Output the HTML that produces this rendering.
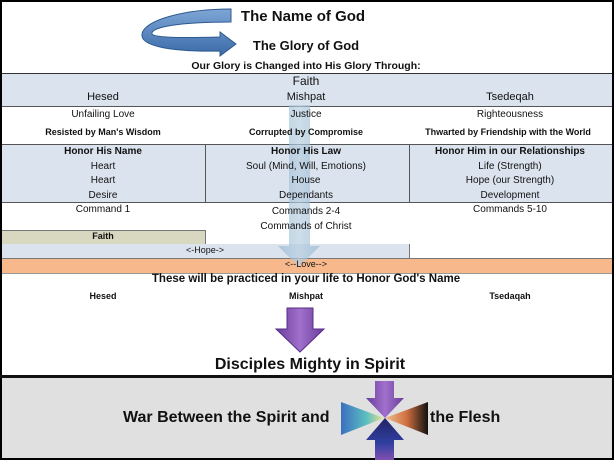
<!DOCTYPE html><html><head><style>
body{margin:0;width:614px;height:460px;overflow:hidden;background:#000;font-family:"Liberation Sans",sans-serif;}
#p{position:absolute;left:2px;top:2px;width:610px;height:456px;background:#fff;}
.t{position:absolute;white-space:nowrap;text-align:center;color:#111;}
.b{font-weight:bold}
.c{transform:translateX(-50%)}
</style></head><body><div id="p"></div>
<div style="position:absolute;left:2px;top:73px;width:610px;height:1px;background:#333"></div>
<div style="position:absolute;left:2px;top:74px;width:610px;height:32px;background:#dbe3ee"></div>
<div style="position:absolute;left:2px;top:106px;width:610px;height:1px;background:#555"></div>
<div style="position:absolute;left:2px;top:144px;width:610px;height:1px;background:#555"></div>
<div style="position:absolute;left:2px;top:145px;width:610px;height:57px;background:#dbe3ee"></div>
<div style="position:absolute;left:2px;top:202px;width:610px;height:1px;background:#555"></div>
<div style="position:absolute;left:205px;top:145px;width:1px;height:57px;background:#555"></div>
<div style="position:absolute;left:409px;top:145px;width:1px;height:57px;background:#555"></div>
<div style="position:absolute;left:2px;top:230px;width:203px;height:14px;background:#d8d7bf;border-top:1px solid #777;border-right:1px solid #777"></div>
<div style="position:absolute;left:2px;top:244px;width:407px;height:14px;background:#dbe3ee;border-right:1px solid #777"></div>
<div style="position:absolute;left:2px;top:258px;width:610px;height:14px;background:#f7b98b;border-top:1px solid #777;border-bottom:1px solid #999"></div>
<div style="position:absolute;left:0;top:375px;width:614px;height:3px;background:#111"></div>
<div style="position:absolute;left:2px;top:378px;width:610px;height:80px;background:#e0e0e0"></div>
<svg style="position:absolute;left:0;top:0" width="614" height="460">
<defs><linearGradient id="va" x1="0" y1="0" x2="1" y2="0"><stop offset="0" stop-color="#8fb3cf" stop-opacity=".6"/><stop offset=".5" stop-color="#b8cfe0" stop-opacity=".7"/><stop offset="1" stop-color="#8fb3cf" stop-opacity=".6"/></linearGradient>
<linearGradient id="pu" x1="0" y1="0" x2="1" y2="0"><stop offset="0" stop-color="#6a3d9a"/><stop offset=".5" stop-color="#a070cc"/><stop offset="1" stop-color="#6a3d9a"/></linearGradient>
<linearGradient id="bl" x1="0" y1="0" x2="0" y2="1"><stop offset="0" stop-color="#7ea6d6"/><stop offset="1" stop-color="#3a6aa8"/></linearGradient>
<linearGradient id="lf" x1="0" y1="0" x2="1" y2="0"><stop offset="0" stop-color="#3b6fc0"/><stop offset=".6" stop-color="#5cc0c0"/><stop offset="1" stop-color="#f0e090"/></linearGradient>
<linearGradient id="rt" x1="0" y1="0" x2="1" y2="0"><stop offset="0" stop-color="#f0c090"/><stop offset=".5" stop-color="#d07040"/><stop offset="1" stop-color="#111"/></linearGradient>
<linearGradient id="dn" x1="0" y1="0" x2="0" y2="1"><stop offset="0" stop-color="#222266"/><stop offset=".6" stop-color="#3040a0"/><stop offset="1" stop-color="#8050b0"/></linearGradient></defs>
<path d="M231 9 L231 22 C180 22 150 27 152 34 C155 38 185 38 220 37 L220 32 L236 44 L220 56 L220 51 C170 52 140 46 142 34 C144 20 185 9 231 9Z" fill="url(#bl)" stroke="#2e5a90" stroke-width="1"/>
<path d="M289 105 L310 105 L310 246 L320 246 L299 267 L278 246 L289 246Z" fill="url(#va)"/>
<path d="M287 308 L313 308 L313 329 L324 329 L300 352 L276 329 L287 329Z" fill="url(#pu)" stroke="#5a2f8a" stroke-width="1"/>
<path d="M341 402 L384 418 L341 435Z" fill="url(#lf)"/>
<path d="M428 402 L385 418 L428 435Z" fill="url(#rt)"/>
<path d="M375 381 L394 381 L394 398 L404 398 L385 418 L366 398 L375 398Z" fill="url(#pu)"/>
<path d="M375 460 L394 460 L394 440 L404 440 L385 418 L366 440 L375 440Z" fill="url(#dn)"/>
</svg>
<div class="t b c" style="left:303px;top:8px;font-size:15px">The Name of God</div>
<div class="t b c" style="left:306px;top:38px;font-size:13px">The Glory of God</div>
<div class="t b c" style="left:306px;top:60px;font-size:10.5px">Our Glory is Changed into His Glory Through:</div>
<div class="t c" style="left:306px;top:74px;font-size:12px">Faith</div>
<div class="t c" style="left:103px;top:91px;font-size:11px">Hesed</div>
<div class="t c" style="left:306px;top:91px;font-size:11px">Mishpat</div>
<div class="t c" style="left:510px;top:91px;font-size:11px">Tsedeqah</div>
<div class="t c" style="left:103px;top:109px;font-size:10px">Unfailing Love</div>
<div class="t c" style="left:306px;top:109px;font-size:10px">Justice</div>
<div class="t c" style="left:510px;top:109px;font-size:10px">Righteousness</div>
<div class="t b c" style="left:103px;top:127px;font-size:9px">Resisted by Man's Wisdom</div>
<div class="t b c" style="left:306px;top:127px;font-size:9px">Corrupted by Compromise</div>
<div class="t b c" style="left:508px;top:127px;font-size:9px">Thwarted by Friendship with the World</div>
<div class="t b c" style="left:103px;top:145px;font-size:10px;line-height:14.5px">Honor His Name<br><span style="font-weight:normal">Heart<br>Heart<br>Desire</span></div>
<div class="t b c" style="left:306px;top:145px;font-size:10px;line-height:14.5px">Honor His Law<br><span style="font-weight:normal">Soul (Mind, Will, Emotions)<br>House<br>Dependants</span></div>
<div class="t b c" style="left:510px;top:145px;font-size:10px;line-height:14.5px">Honor Him in our Relationships<br><span style="font-weight:normal">Life (Strength)<br>Hope (our Strength)<br>Development</span></div>
<div class="t c" style="left:103px;top:204px;font-size:10px">Command 1</div>
<div class="t c" style="left:306px;top:204px;font-size:10px;line-height:15px">Commands 2-4<br>Commands of Christ</div>
<div class="t c" style="left:510px;top:204px;font-size:10px">Commands 5-10</div>
<div class="t b c" style="left:103px;top:231px;font-size:9px">Faith</div>
<div class="t c" style="left:205px;top:245px;font-size:9px">&lt;-Hope-&gt;</div>
<div class="t c" style="left:306px;top:259px;font-size:9px">&lt;--Love--&gt;</div>
<div class="t b c" style="left:306px;top:273px;font-size:11.5px">These will be practiced in your life to Honor God's Name</div>
<div class="t b c" style="left:103px;top:291px;font-size:9px">Hesed</div>
<div class="t b c" style="left:306px;top:291px;font-size:9px">Mishpat</div>
<div class="t b c" style="left:510px;top:291px;font-size:9px">Tsedaqah</div>
<div class="t b c" style="left:310px;top:356px;font-size:16px">Disciples Mighty in Spirit</div>
<div class="t b" style="left:123px;top:409px;font-size:16px">War Between the Spirit and</div>
<div class="t b" style="left:430px;top:409px;font-size:16px">the Flesh</div>
</body></html>
